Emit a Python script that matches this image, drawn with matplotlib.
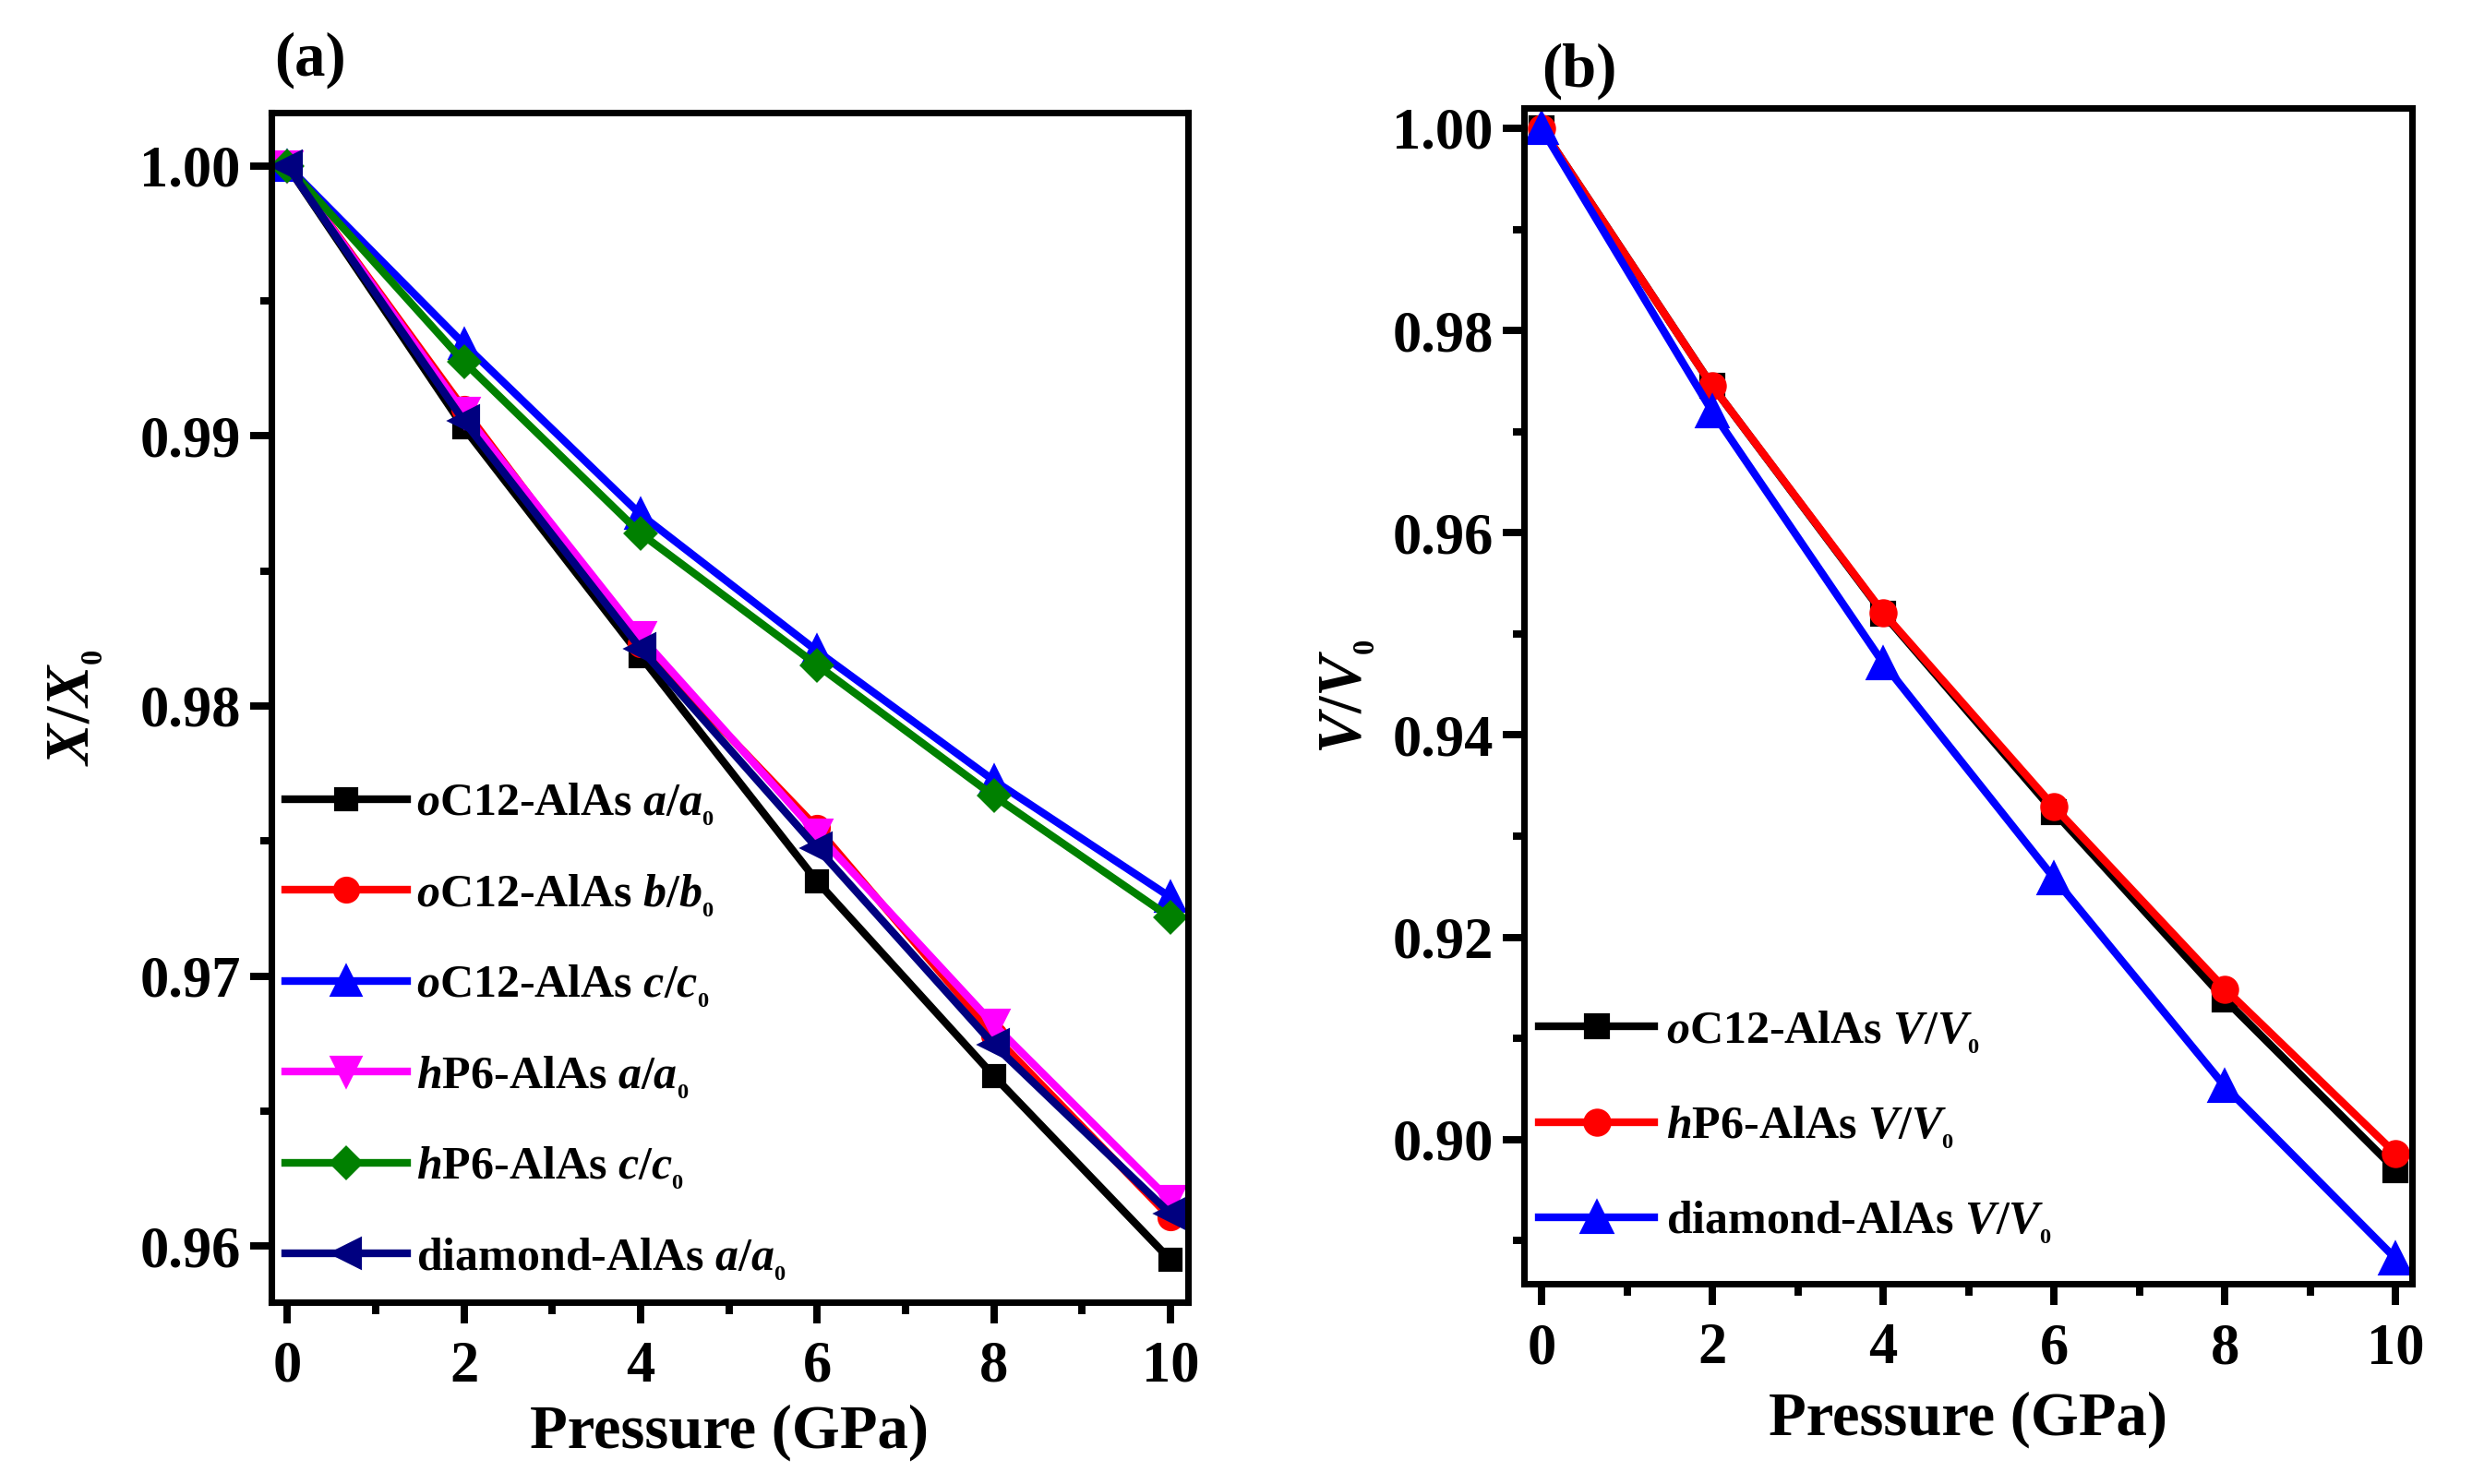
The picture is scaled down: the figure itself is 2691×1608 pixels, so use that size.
import matplotlib
matplotlib.use('Agg')
import matplotlib.pyplot as plt
from matplotlib.ticker import MultipleLocator, FormatStrFormatter

plt.rcParams['font.family'] = ['Liberation Serif', 'DejaVu Serif']
plt.rcParams['font.weight'] = 'bold'
plt.rcParams['mathtext.fontset'] = 'custom'
plt.rcParams['mathtext.rm'] = 'Liberation Serif:bold'
plt.rcParams['mathtext.it'] = 'Liberation Serif:bold:italic'
plt.rcParams['mathtext.bf'] = 'Liberation Serif:bold'

pressure = [0, 2, 4, 6, 8, 10]

# panel (a): lattice parameter ratios
oc12_a = [1.0, 0.9903, 0.98185, 0.97350, 0.96630, 0.95949]
oc12_b = [1.0, 0.9910, 0.98230, 0.97548, 0.96780, 0.96105]
oc12_c = [1.0, 0.99340, 0.98709, 0.98203, 0.97724, 0.97292]
hp6_a = [1.0, 0.99085, 0.98257, 0.97526, 0.96820, 0.96168]
hp6_c = [1.0, 0.99274, 0.98639, 0.98151, 0.97667, 0.97217]
dia_a = [1.0, 0.99055, 0.98213, 0.97474, 0.96746, 0.96120]

# panel (b): volume ratios
oc12_v = [1.0, 0.97450, 0.95200, 0.93240, 0.91385, 0.89700]
hp6_v = [1.0, 0.97450, 0.95210, 0.93290, 0.91490, 0.89860]
dia_v = [1.0, 0.97196, 0.94711, 0.92584, 0.90525, 0.88822]

labels_a = [r'$\mathit{o}$C12-AlAs $a/a_{{}_0}$',
            r'$\mathit{o}$C12-AlAs $b/b_{{}_0}$',
            r'$\mathit{o}$C12-AlAs $c/c_{{}_0}$',
            r'$\mathit{h}$P6-AlAs $a/a_{{}_0}$',
            r'$\mathit{h}$P6-AlAs $c/c_{{}_0}$',
            r'diamond-AlAs $a/a_{{}_0}$']
labels_b = [r'$\mathit{o}$C12-AlAs $V/V_{{}_0}$',
            r'$\mathit{h}$P6-AlAs $V/V_{{}_0}$',
            r'diamond-AlAs $V/V_{{}_0}$']


def style_axis(ax, ymajor, yminor):
    for sp in ax.spines.values():
        sp.set_linewidth(1.7)
    ax.xaxis.set_major_locator(MultipleLocator(2))
    ax.xaxis.set_minor_locator(MultipleLocator(1))
    ax.yaxis.set_major_locator(MultipleLocator(ymajor))
    ax.yaxis.set_minor_locator(MultipleLocator(yminor))
    ax.yaxis.set_major_formatter(FormatStrFormatter('%.2f'))
    ax.tick_params(which='both', direction='out', top=False, right=False,
                   width=1.9, labelsize=15)
    ax.tick_params(which='major', length=5.5)
    ax.tick_params(which='minor', length=3)
    ax.tick_params(axis='y', which='major', pad=2.5)
    ax.tick_params(axis='x', which='major', pad=4.5)
    ax.set_xlabel('Pressure (GPa)', fontsize=16, fontweight='bold')


fig = plt.figure(figsize=(2691 / 300, 1608 / 300), dpi=300)
ax1 = fig.add_axes([0.10925, 0.12251, 0.36901, 0.80162])
ax2 = fig.add_axes([0.61353, 0.13464, 0.35748, 0.79260])

series_a = [oc12_a, oc12_b, oc12_c, hp6_a, hp6_c, dia_a]
colors_a = ['black', 'red', 'blue', 'magenta', 'green', 'navy']
markers_a = ['s', 'o', '^', 'v', 'D', '<']
sizes_a = [5.5, 6, 7, 7, 5.5, 7]
for ys, c, m, ms, lab in zip(series_a, colors_a, markers_a, sizes_a, labels_a):
    ax1.plot(pressure, ys, color=c, marker=m, markersize=ms, linewidth=2.0,
             label=lab)

ax1.set_xlim(-0.18, 10.2)
ax1.set_ylim(0.95792, 1.00197)
style_axis(ax1, 0.01, 0.005)
ax1.set_ylabel(r'$X/X_{{}_0}$', fontsize=16, labelpad=9)
ax1.xaxis.labelpad = 2.5
ax1.legend(loc='lower left', bbox_to_anchor=(0.0, 0.005), frameon=False,
           fontsize=12, handlelength=2.64, handletextpad=0.2,
           labelspacing=0.965, borderaxespad=0.0, borderpad=0.3)

series_b = [oc12_v, hp6_v, dia_v]
colors_b = ['black', 'red', 'blue']
markers_b = ['s', 'o', '^']
sizes_b = [5.7, 6.3, 7.5]
for ys, c, m, ms, lab in zip(series_b, colors_b, markers_b, sizes_b, labels_b):
    ax2.plot(pressure, ys, color=c, marker=m, markersize=ms, linewidth=2.0,
             label=lab)

ax2.set_xlim(-0.205, 10.19)
ax2.set_ylim(0.8857, 1.002)
style_axis(ax2, 0.02, 0.01)
ax2.set_ylabel(r'$V/V_{{}_0}$', fontsize=16)
ax2.legend(loc='lower left', bbox_to_anchor=(0.0, 0.020), frameon=False,
           fontsize=12, handlelength=2.5, handletextpad=0.26,
           labelspacing=1.06, borderaxespad=0.0, borderpad=0.32)

fig.text(0.1249, 0.9596, '(a)', fontsize=16, fontweight='bold',
         ha='center', va='center')
fig.text(0.6358, 0.9521, '(b)', fontsize=16, fontweight='bold',
         ha='center', va='center')

fig.savefig('out.png', dpi=300)
